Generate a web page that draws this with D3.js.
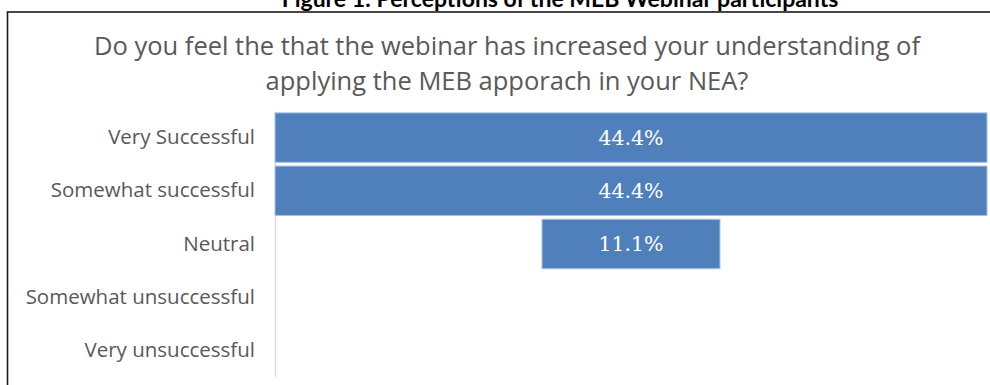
<!DOCTYPE html>
<html>
<head>
<meta charset="utf-8">
<script src="https://cdn.jsdelivr.net/npm/d3@7"></script>
<style>
  body { margin: 0; background: #fff; }
  svg { display: block; }
</style>
</head>
<body>
<div id="chart"></div>
<script>
// chart values
const categories = ["Very Successful", "Somewhat successful", "Neutral", "Somewhat unsuccessful", "Very unsuccessful"];
const percents = [44.4, 44.4, 11.1, 0, 0];
const figureTitle = "Figure 1: Perceptions of the MEB Webinar participants";
const titleLines = ["Do you feel the that the webinar has increased your understanding of",
                    "applying the MEB apporach in your NEA?"];

const W = 990, H = 385;
const plot = { left: 275, right: 987, top: 111, bottom: 377 };

const svg = d3.select("#chart").append("svg")
    .attr("width", W)
    .attr("height", H);

// figure caption, cut off at the top like in the document
svg.append("text")
    .attr("x", 560)
    .attr("y", 7)
    .attr("text-anchor", "middle")
    .style("font-family", "Lato, 'Open Sans', sans-serif")
    .style("font-weight", "bold")
    .style("font-size", "23px")
    .style("fill", "#000")
    .text(figureTitle);

// chart frame
svg.append("rect")
    .attr("x", 7.5)
    .attr("y", 12)
    .attr("width", W)
    .attr("height", H)
    .attr("fill", "none")
    .attr("stroke", "#1a1a1a")
    .attr("stroke-width", 1.6);

// chart title
svg.append("g").selectAll("text")
    .data(titleLines)
  .enter().append("text")
    .attr("x", 507)
    .attr("y", (d, i) => 55 + i * 35)
    .attr("text-anchor", "middle")
    .style("font-family", "'Open Sans', sans-serif")
    .style("font-size", "25.5px")
    .style("fill", "#595959")
    .text(d => d);

// scales
const x = d3.scaleLinear()
    .domain([0, d3.max(percents)])
    .range([0, plot.right - plot.left]);
const cx = (plot.left + plot.right) / 2;

const y = d3.scaleBand()
    .domain(categories)
    .range([plot.top, plot.bottom])
    .paddingInner(0.07)
    .paddingOuter(0.035);

// category axis
const yAxis = svg.append("g")
    .attr("transform", "translate(" + plot.left + ",0)")
    .call(d3.axisLeft(y).tickSize(0).tickPadding(20));
yAxis.select(".domain").attr("stroke", "#d9d9d9").attr("stroke-width", 1.2);
yAxis.selectAll("text")
    .style("font-family", "'Open Sans', sans-serif")
    .style("font-size", "20.5px")
    .style("fill", "#595959");

// bars, centred like a funnel
const rows = categories.map((c, i) => ({ cat: c, val: percents[i] }));

svg.selectAll(".bar")
    .data(rows.filter(d => d.val > 0))
  .enter().append("rect")
    .attr("class", "bar")
    .attr("x", d => cx - x(d.val) / 2)
    .attr("width", d => x(d.val))
    .attr("y", d => y(d.cat))
    .attr("height", y.bandwidth())
    .attr("fill", "#4f80bc")
    .attr("stroke", "#a9c4e4")
    .attr("stroke-width", 1);

svg.selectAll(".lbl")
    .data(rows.filter(d => d.val > 0))
  .enter().append("text")
    .attr("class", "lbl")
    .attr("x", cx)
    .attr("y", d => y(d.cat) + y.bandwidth() / 2)
    .attr("dy", "0.35em")
    .attr("text-anchor", "middle")
    .style("font-family", "'DejaVu Serif', serif")
    .style("font-size", "20.5px")
    .style("fill", "#fff")
    .text(d => d.val.toFixed(1) + "%");
</script>
</body>
</html>
